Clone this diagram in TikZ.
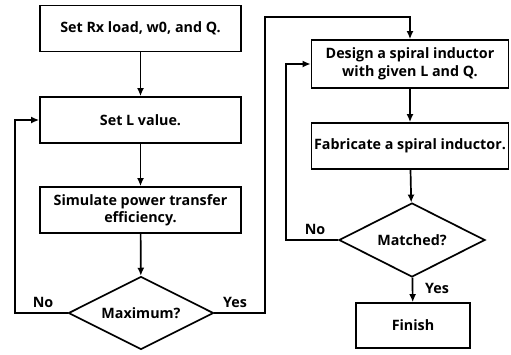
\documentclass[tikz,border=0pt]{standalone}
\usepackage{fontspec}
\setmainfont{Open Sans}
\usepackage{tikz}
\usetikzlibrary{positioning, shapes.geometric}
\usetikzlibrary{arrows.meta}

\begin{document}
\begin{tikzpicture}[x=1pt, y=-1pt, font=\fontsize{14.3}{17.5}\selectfont\bfseries]
        \tikzset{box/.style = {draw, line width=1.7pt, align=center, inner sep=0pt, minimum height=46pt}}
        \tikzset{decision/.style = {draw, diamond, aspect=2, line width=1.7pt, inner sep=0pt, minimum width=145pt, minimum height=73pt}}
        \tikzset{flow/.style = {line width=1.7pt, -{Latex[length=8pt, width=7pt]}}}

        \useasboundingbox (0,0) rectangle (511,354);

        \node[box, minimum width=201pt] (setrx) at (140.5,28.5) {Set Rx load, w0, and Q.};
        \node[box, minimum width=201pt] (setl) at (140.5,120) {Set L value.};
        \node[box, minimum width=201pt] (sim) at (140.5,210) {Simulate power transfer\\efficiency.};
        \node[decision] (maxq) at (141,313) {Maximum?};

        \node[box, minimum width=197pt, minimum height=48pt] (design) at (410,64) {Design a spiral inductor\\with given L and Q.};
        \node[box, minimum width=197pt] (fab) at (410,146) {Fabricate a spiral inductor.};
        \node[decision, minimum width=146pt, minimum height=74pt] (match) at (412,240) {Matched?};
        \node[box, minimum width=114pt, minimum height=45pt] (fin) at (413,325.5) {Finish};

        \coordinate (noleft) at (15,313);
        \coordinate (yestop) at (265,17);
        \coordinate (noback) at (286,240);

        \draw[flow] (setrx) -- (setl);
        \draw[flow] (setl) -- (sim);
        \draw[flow] (sim) -- (maxq);
        \draw[flow] (design) -- (fab);
        \draw[flow] (fab) -- (match);
        \draw[flow] (match) -- (fin);

        % loops
        \draw[flow] (maxq.west) -- (noleft) |- (setl.west);
        \draw[flow] (maxq.east) -| (yestop) -| (design.north);
        \draw[flow] (match.west) -- (noback) |- (design.west);

        \node (nol) at (43,302) {No};
        \node (yesl) at (235,302) {Yes};
        \node (nor) at (315,229) {No};
        \node (yesr) at (437,288) {Yes};

    \end{tikzpicture}
\end{document}
